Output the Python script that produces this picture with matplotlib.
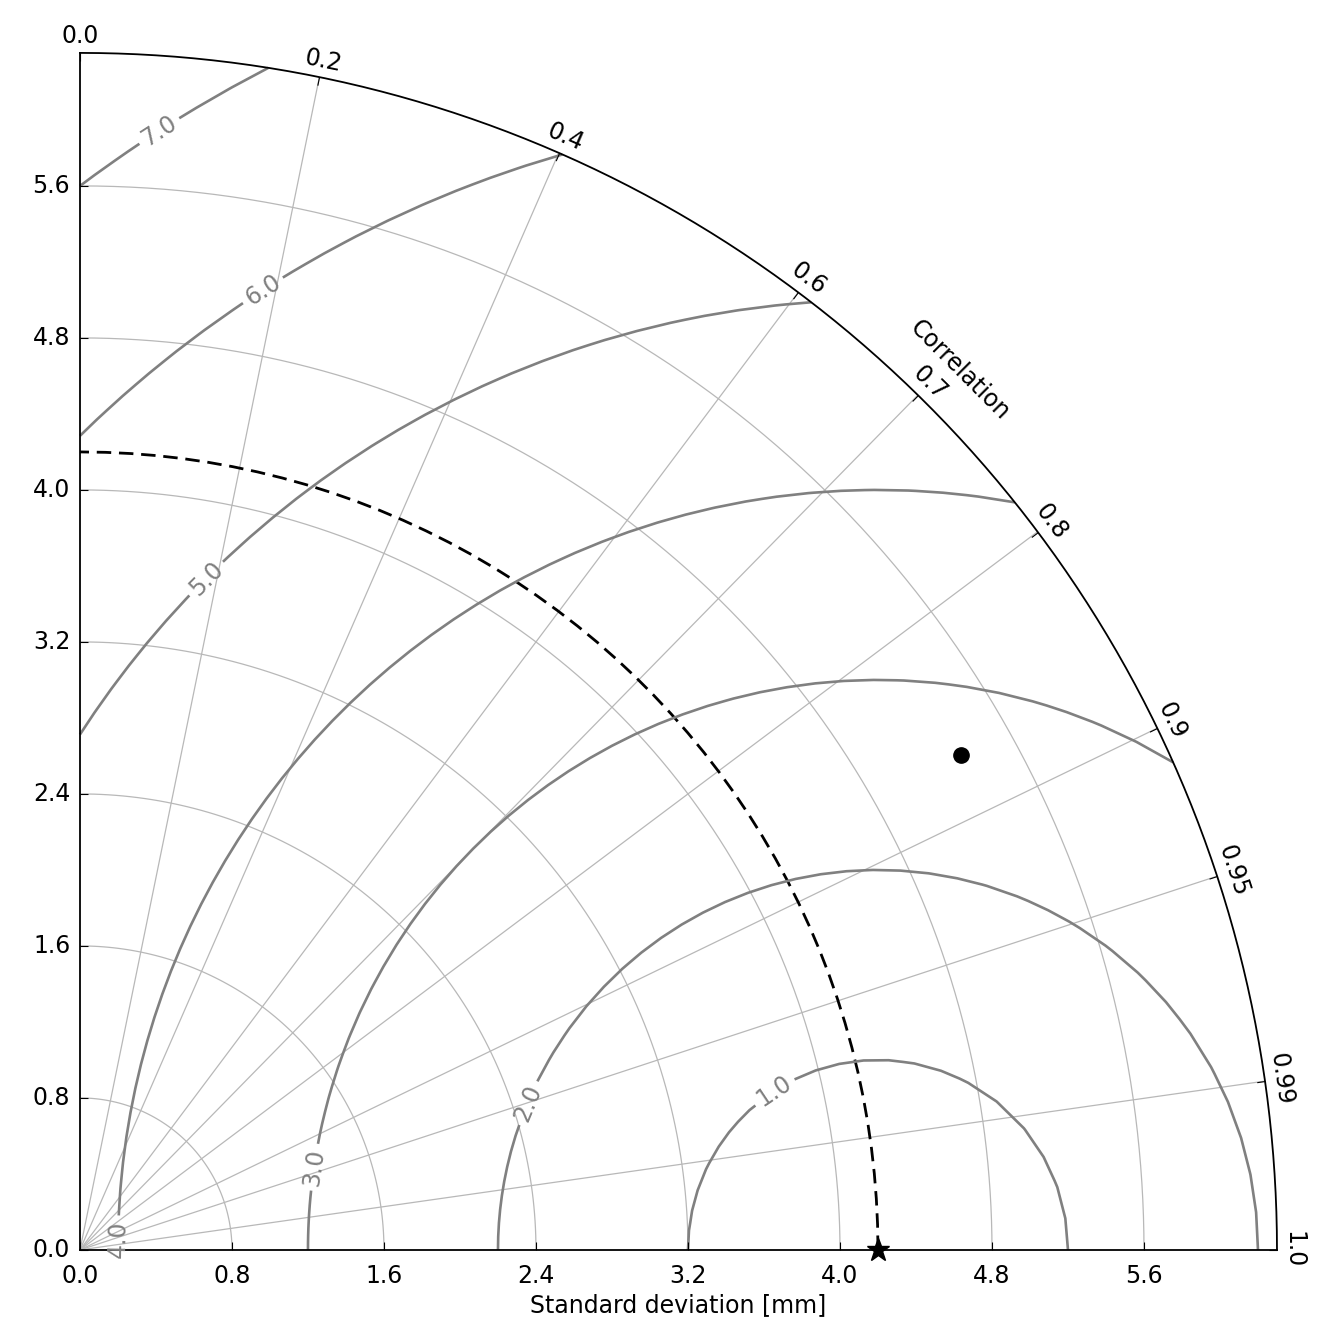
import numpy as np
import matplotlib
matplotlib.use('Agg')
import matplotlib.pyplot as plt
from matplotlib.projections import PolarAxes
import mpl_toolkits.axisartist.floating_axes as FA
import mpl_toolkits.axisartist.grid_finder as GF

# ---- data ----
ref_std = 4.2
smax = 6.3
sample_std = [5.32]
sample_corr = [0.872]
corr_ticks = [0.0, 0.2, 0.4, 0.6, 0.7, 0.8, 0.9, 0.95, 0.99, 1.0]
corr_labels = ['0.0', '0.2', '0.4', '0.6', '0.7', '0.8', '0.9', '0.95', '0.99', '1.0']
std_ticks = [0.0, 0.8, 1.6, 2.4, 3.2, 4.0, 4.8, 5.6]
std_labels = ['0.0', '0.8', '1.6', '2.4', '3.2', '4.0', '4.8', '5.6']
rms_levels = [1, 2, 3, 4, 5, 6, 7]

# contour label placement (angle [rad], radius) -- layout only
label_theta = [0.228, 0.314, 0.344, 0.32, 1.387, 1.384, 1.502]
label_radius = [3.744, 2.49, 1.297, 0.183, 3.60, 5.15, 5.92]

plt.rcParams['font.family'] = ['DejaVu Sans']
FS = 17

fig = plt.figure(figsize=(13.28, 13.39), dpi=100)
tr = PolarAxes.PolarTransform(apply_theta_transforms=False)

tlocs = np.arccos(corr_ticks)
gl1 = GF.FixedLocator(tlocs)
tf1 = GF.DictFormatter(dict(zip(tlocs, corr_labels)))
gl2 = GF.FixedLocator(std_ticks)
tf2 = GF.DictFormatter(dict(zip(std_ticks, std_labels)))

ghelper = FA.GridHelperCurveLinear(tr, extremes=(0, np.pi / 2, 0, smax),
                                   grid_locator1=gl1, tick_formatter1=tf1,
                                   grid_locator2=gl2, tick_formatter2=tf2)
ax = FA.FloatingAxes(fig, [0.0512, 0.0568, 0.9194, 0.9134], grid_helper=ghelper)
fig.add_axes(ax)

ax.axis["top"].set_axis_direction("bottom")
ax.axis["top"].toggle(ticklabels=True, label=True)
ax.axis["top"].major_ticklabels.set_axis_direction("top")
ax.axis["top"].label.set_axis_direction("top")
ax.axis["top"].label.set_text("Correlation")

ax.axis["left"].set_axis_direction("bottom")
ax.axis["left"].label.set_text("Standard deviation [mm]")

ax.axis["right"].set_axis_direction("top")
ax.axis["right"].toggle(ticklabels=True)
ax.axis["right"].major_ticklabels.set_axis_direction("left")

ax.axis["bottom"].set_visible(False)

for k in ["top", "left", "right"]:
    ax.axis[k].major_ticklabels.set_fontsize(FS)
    ax.axis[k].major_ticklabels.set_pad(7)
    ax.axis[k].label.set_fontsize(FS)
    ax.axis[k].major_ticks.set_ticksize(6)
    ax.axis[k].line.set_linewidth(1.3)
ax.axis["left"].major_ticklabels.set_pad(11)
ax.axis["left"].label.set_pad(7)

ax.grid(True, color='0.72', linewidth=0.9, linestyle='-')

aux = ax.get_aux_axes(tr)

# reference arc and point
t = np.linspace(0, np.pi / 2)
aux.plot(t, np.zeros_like(t) + ref_std, 'k--', lw=2.0, dashes=(5.2, 2.8))
aux.plot([0], [ref_std], 'k*', ls='', ms=17, clip_on=False, zorder=5)

# sample
aux.plot(np.arccos(sample_corr), sample_std, 'o', ls='', ms=11, mfc='k', mec='k')

# RMS contours
rs, ts = np.meshgrid(np.linspace(0, smax), np.linspace(0, np.pi / 2))
rms = np.sqrt(ref_std ** 2 + rs ** 2 - 2 * ref_std * rs * np.cos(ts))
cs = aux.contour(ts, rs, rms, rms_levels, colors='0.5', linewidths=1.9)
cs.clabel(inline=1, fontsize=FS, fmt='%.1f',
          manual=list(zip(label_theta, label_radius)))

fig.savefig('out.png', dpi=100)
